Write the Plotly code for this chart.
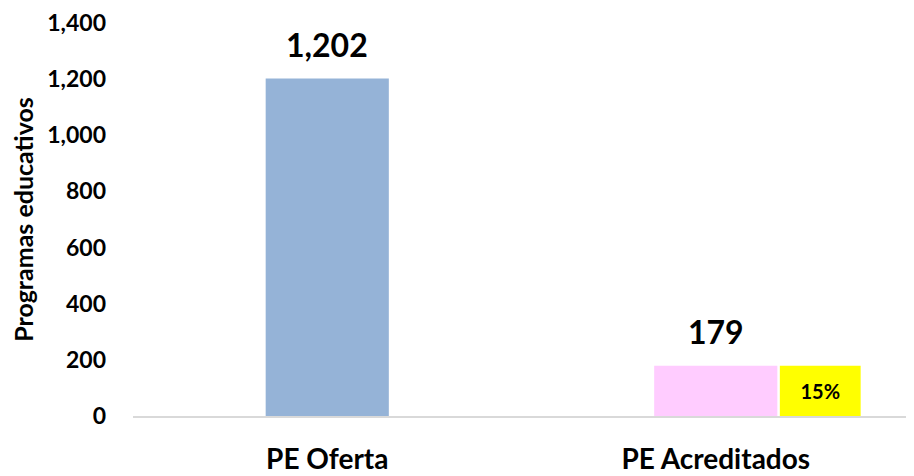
import plotly.graph_objects as go

categories = ["PE Oferta", "PE Acreditados"]
values = [1202, 179]
bar_colors = ["#95B3D7", "#FFCCFF"]
y_ticks = [0, 200, 400, 600, 800, 1000, 1200, 1400]
y_title = "Programas educativos"

pct = round(values[1] / values[0] * 100)
pct_label = f"{pct}%"

FONT = "Lato, Open Sans, sans-serif"

fig = go.Figure()
fig.add_trace(go.Bar(
    x=categories, y=values,
    marker=dict(color=bar_colors, line=dict(width=0)),
    width=0.317,
    hoverinfo="skip",
))
fig.add_trace(go.Bar(
    x=[categories[1]], y=[values[1]],
    marker=dict(color="#FFFF00", line=dict(width=0)),
    width=0.208, offset=0.165,
    text=[pct_label], textposition="inside", insidetextanchor="middle",
    textfont=dict(family=FONT, size=20, color="black", weight="bold"),
    constraintext="none",
    hoverinfo="skip",
))

for c, v in zip(categories, values):
    fig.add_annotation(
        x=c, y=v, text=f"{v:,}", showarrow=False,
        yanchor="bottom", yshift=13,
        font=dict(family=FONT, size=32, color="black", weight="bold"),
    )

fig.update_layout(
    width=906, height=468,
    margin=dict(l=125, r=4, t=15, b=60, autoexpand=False),
    paper_bgcolor="white", plot_bgcolor="white",
    barmode="overlay", showlegend=False,
    font=dict(family=FONT, color="black"),
)
fig.update_xaxes(
    automargin=False,
    showline=True, linecolor="#D9D9D9", linewidth=2,
    showgrid=False, ticks="",
    tickfont=dict(family=FONT, size=28, color="black", weight="bold"),
    ticklabelstandoff=17,
)
fig.update_yaxes(
    automargin=False,
    range=[0, 1400], tickvals=y_ticks,
    tickformat=",d",
    showgrid=False, zeroline=False, showline=False, ticks="",
    tickfont=dict(family=FONT, size=23, color="black", weight="bold"),
    ticklabelstandoff=26,
    title=dict(text=y_title, font=dict(family=FONT, size=25, color="black", weight="bold"), standoff=10),
)

fig.write_html("out.html")
